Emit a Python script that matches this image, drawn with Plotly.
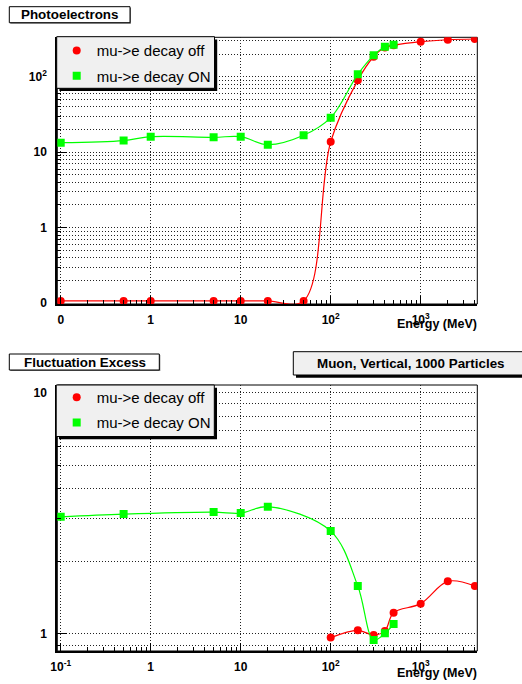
import plotly.graph_objects as go

W, H = 522, 684

# Photoelectron yield vs. muon energy
energy_pe_off = [0.1, 0.5, 1, 5, 10, 20, 50, 100, 200, 300, 400, 500, 1000, 2000, 4000]
pe_off = [0.107, 0.107, 0.107, 0.107, 0.107, 0.107, 0.107, 13.8, 90, 185, 245, 262, 293, 311, 318]
energy_pe_on = [0.1, 0.5, 1, 5, 10, 20, 50, 100, 200, 300, 400, 500]
pe_on = [13.4, 14.3, 16.1, 15.8, 16.1, 12.6, 16.8, 28.8, 108, 193, 251, 267]

# Fluctuation excess vs. muon energy
energy_fe_off = [100, 200, 300, 400, 500, 1000, 2000, 4000]
fe_off = [0.966, 1.036, 0.99, 1.03, 1.225, 1.336, 1.653, 1.58]
energy_fe_on = [0.1, 0.5, 5, 10, 20, 100, 200, 300, 400, 500]
fe_on = [3.06, 3.14, 3.20, 3.17, 3.37, 2.67, 1.58, 0.944, 1.006, 1.10]

series_names = ["mu->e decay off", "mu->e decay ON"]
RED, GREEN = "#ff0000", "#00ff00"

x_major = [0.1, 1, 10, 100, 1000]
x_text_top = ["0", "1", "10", "10<sup>2</sup>", "10<sup>3</sup>"]
x_text_bot = ["10<sup>-1</sup>", "1", "10", "10<sup>2</sup>", "10<sup>3</sup>"]
x_minor = [d * k for d in x_major for k in range(2, 10) if d * k < 4300]

y_major_top = [0.1, 1, 10, 100]
y_text_top = ["0", "1", "10", "10<sup>2</sup>"]
y_minor_top = [d * k for d in [0.1, 1, 10, 100] for k in range(2, 10) if d * k < 340]
y_major_bot = [1, 10]
y_text_bot = ["1", "10"]
y_minor_bot = [0.9] + [k for k in range(2, 10)]

FONT = "Liberation Sans"


def px(x):
    return x / W


def py(y):
    return 1 - y / H


fig = go.Figure()


# data curves, smoothed through the points
def add_curve(x, y, xa, ya, color, symbol):
    fig.add_trace(go.Scatter(
        x=x, y=y, xaxis=xa, yaxis=ya, mode="lines+markers",
        line=dict(color=color, width=1.2, shape="spline", smoothing=1),
        marker=dict(color=color, symbol=symbol, size=8, line=dict(width=0)),
        showlegend=False, cliponaxis=True,
    ))


add_curve(energy_pe_off, pe_off, "x", "y", RED, "circle")
add_curve(energy_pe_on, pe_on, "x", "y", GREEN, "square")
add_curve(energy_fe_off, fe_off, "x2", "y2", RED, "circle")
add_curve(energy_fe_on, fe_on, "x2", "y2", GREEN, "square")

# one legend per entry so each row sits at a fixed height
legend_rows = [
    ("legend", "x", "y", 0, 50.7),
    ("legend3", "x", "y", 1, 76.0),
    ("legend2", "x2", "y2", 0, 397.5),
    ("legend4", "x2", "y2", 1, 422.7),
]
colors = [RED, GREEN]
symbols = ["circle", "square"]
legend_layout = {}
for leg, xa, ya, i, yc in legend_rows:
    fig.add_trace(go.Scatter(
        x=[None], y=[None], xaxis=xa, yaxis=ya, mode="markers", name=series_names[i],
        marker=dict(color=colors[i], symbol=symbols[i], size=8), legend=leg,
    ))
    legend_layout[leg] = dict(
        x=px(56.7), y=py(yc), xanchor="left", yanchor="middle",
        bgcolor="rgba(0,0,0,0)", borderwidth=0,
        font=dict(family=FONT, size=15, color="black"),
        itemclick=False, itemdoubleclick=False,
    )

tickfont = dict(family=FONT, size=12, color="black", weight="bold")
grid = dict(gridcolor="#222222", griddash="1px,2px", gridwidth=1)


def xaxis_cfg(ticktext, anchor):
    return dict(
        type="log", range=[-1.038, 3.629], domain=[px(57.3), px(477.3)], anchor=anchor,
        automargin=False,
        tickmode="array", tickvals=x_major, ticktext=ticktext,
        ticks="inside", ticklen=8, tickwidth=1, tickcolor="black",
        showline=True, linewidth=2, linecolor="black",
        showgrid=True, **grid, tickfont=tickfont, ticklabelstandoff=4,
        minor=dict(tickmode="array", tickvals=x_minor, ticks="inside", ticklen=4,
                   tickcolor="black", showgrid=False),
        zeroline=False,
    )


def yaxis_cfg(rng, dom, vals, text, minor, anchor):
    return dict(
        type="log", range=rng, domain=dom, anchor=anchor, automargin=False,
        tickmode="array", tickvals=vals, ticktext=text,
        ticks="inside", ticklen=10, tickwidth=1, tickcolor="black",
        showline=True, linewidth=2, linecolor="black",
        showgrid=True, **grid, tickfont=tickfont, ticklabelstandoff=6,
        minor=dict(tickmode="array", tickvals=minor, ticks="inside", ticklen=4,
                   tickcolor="black", showgrid=True, **grid),
        zeroline=False,
    )


fig.update_layout(
    width=W, height=H, margin=dict(l=0, r=0, t=0, b=0, autoexpand=False),
    paper_bgcolor="white", plot_bgcolor="white",
    font=dict(family=FONT, color="black"),
    xaxis=xaxis_cfg(x_text_top, "y"),
    yaxis=yaxis_cfg([-1.012, 2.525], [py(304), py(37.3)], y_major_top, y_text_top, y_minor_top, "x"),
    xaxis2=xaxis_cfg(x_text_bot, "y2"),
    yaxis2=yaxis_cfg([-0.0705, 1.032], [py(651), py(385)], y_major_bot, y_text_bot, y_minor_bot, "x2"),
    **legend_layout,
)

shapes = []
# thin frame around each pad
for xr, yr in [("x domain", "y domain"), ("x2 domain", "y2 domain")]:
    shapes.append(dict(type="rect", xref=xr, yref=yr, x0=0, x1=1, y0=0, y1=1,
                       line=dict(color="black", width=1), layer="below"))


def box(x0, y0, x1, y1, fill, shadow=None, shadow_off=3):
    if shadow:
        shapes.append(dict(type="rect", xref="paper", yref="paper",
                           x0=px(x0 + shadow_off), x1=px(x1 + shadow_off),
                           y0=py(y1 + shadow_off), y1=py(y0 + shadow_off),
                           fillcolor=shadow, line=dict(width=0), layer="above"))
    shapes.append(dict(type="rect", xref="paper", yref="paper",
                       x0=px(x0), x1=px(x1), y0=py(y1), y1=py(y0),
                       fillcolor=fill, line=dict(color="black", width=1), layer="above"))


# legend boxes
box(56.7, 36.7, 214.5, 88.3, "#f0f0f0", shadow="black", shadow_off=2.7)
box(56.2, 385, 214.3, 436.5, "#f0f0f0", shadow="black", shadow_off=2.7)
# pad titles
box(9.3, 6.7, 130, 22.7, "white", shadow="#777777", shadow_off=1)
box(9.3, 354, 159.3, 370, "white", shadow="#777777", shadow_off=1)
box(293.3, 351.7, 530, 375, "#f0f0f0", shadow="black", shadow_off=2.7)
fig.update_layout(shapes=shapes)

bold = dict(family=FONT, color="black", weight="bold")
annotations = [
    dict(text="Photoelectrons", x=px(69.5), y=py(14.7), font=dict(size=13.4, **bold),
         xanchor="center", yanchor="middle"),
    dict(text="Fluctuation Excess", x=px(84.5), y=py(362), font=dict(size=13.4, **bold),
         xanchor="center", yanchor="middle"),
    dict(text="Muon, Vertical, 1000 Particles", x=px(411.3), y=py(363),
         font=dict(size=13.4, **bold), xanchor="center", yanchor="middle"),
    dict(text="Energy (MeV)", x=px(477.5), y=py(324), font=dict(size=12.5, **bold),
         xanchor="right", yanchor="middle"),
    dict(text="Energy (MeV)", x=px(477.5), y=py(672.5), font=dict(size=12.5, **bold),
         xanchor="right", yanchor="middle"),
]
for a in annotations:
    a.update(xref="paper", yref="paper", showarrow=False, borderpad=0)
fig.update_layout(annotations=annotations)

fig.write_html("out.html")
